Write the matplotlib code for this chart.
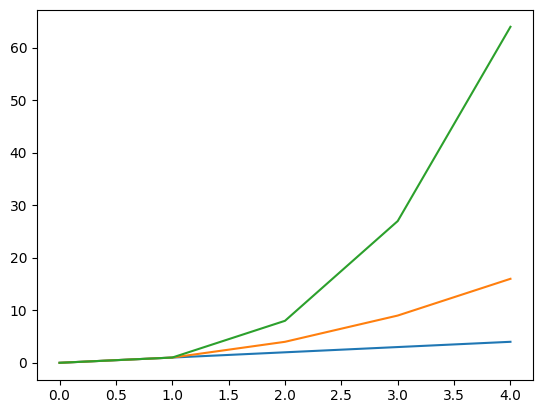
import matplotlib
matplotlib.use("Agg")
import matplotlib.pyplot as plt

x = [0, 1, 2, 3, 4]
y_linear = [0, 1, 2, 3, 4]
y_square = [0, 1, 4, 9, 16]
y_cube = [0, 1, 8, 27, 64]

fig = plt.figure(figsize=(5.43, 4.13), dpi=100)
ax = fig.add_axes([37 / 543, (413 - 379.6) / 413, 496 / 543, 369.6 / 413])

ax.plot(x, y_linear)
ax.plot(x, y_square)
ax.plot(x, y_cube)

fig.savefig("out.png", dpi=100)
